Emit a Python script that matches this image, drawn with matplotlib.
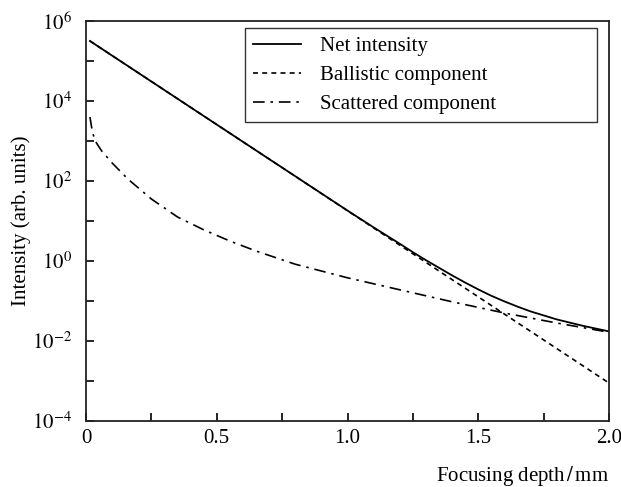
import numpy as np
import matplotlib.pyplot as plt

plt.rcParams['font.family'] = ['Liberation Serif', 'DejaVu Serif']
plt.rcParams['mathtext.fontset'] = 'stix'

##DATA##########################################################################
# ballistic component is a straight line on the log scale
ballistic_x = [0.015, 2.0]
ballistic_log = [5.5, -3.05]

scattered_x = [0.015, 0.025, 0.04, 0.06, 0.1, 0.16, 0.25, 0.35, 0.45, 0.55,
               0.65, 0.8, 1.0, 1.2, 1.4, 1.6, 1.8, 2.0]
scattered_log = [3.6, 3.2, 2.95, 2.75, 2.45, 2.05, 1.55, 1.1, 0.78, 0.5,
                 0.25, -0.08, -0.42, -0.72, -1.02, -1.3, -1.55, -1.78]

net_x = [0.015, 0.5, 1.0, 1.1, 1.2, 1.25, 1.3, 1.35, 1.4, 1.45, 1.5, 1.55,
         1.6, 1.65, 1.7, 1.75, 1.8, 1.85, 1.9, 1.95, 2.0]
net_log = [5.5, 3.41, 1.26, 0.84, 0.43, 0.22, 0.02, -0.17, -0.36, -0.54, -0.71,
           -0.87, -1.01, -1.14, -1.26, -1.36, -1.46, -1.54, -1.62, -1.69, -1.76]

x_ticks = [0, 0.25, 0.5, 0.75, 1.0, 1.25, 1.5, 1.75, 2.0]
x_ticklabels = ['0', '', '0.5', '', '1.0', '', '1.5', '', '2.0']
y_exponents = [-4, -3, -2, -1, 0, 1, 2, 3, 4, 5, 6]
y_ticklabels = [r'$10^{%d}$' % e if e % 2 == 0 else '' for e in y_exponents]
################################################################################

fig = plt.figure(figsize=(6.21, 4.87), dpi=100)
ax = fig.add_axes([0.1385, 0.1355, 0.8422, 0.8214])

ax.plot(net_x, np.power(10.0, net_log), color='black', lw=1.3, ls='-',
        label='Net intensity')
ax.plot(ballistic_x, np.power(10.0, ballistic_log), color='black', lw=1.2,
        ls=(0, (3, 2.5)), label='Ballistic component')
ax.plot(scattered_x, np.power(10.0, scattered_log), color='black', lw=1.2,
        ls=(0, (7, 3.5, 1.5, 3.5)), label='Scattered component')

ax.set_yscale('log')
ax.set_xlim(0, 2.0)
ax.set_ylim(1e-4, 1e6)
ax.set_xticks(x_ticks)
ax.set_xticklabels(x_ticklabels)
ax.set_yticks([10.0 ** e for e in y_exponents])
ax.set_yticklabels(y_ticklabels)
ax.yaxis.set_minor_locator(plt.NullLocator())
ax.tick_params(direction='in', length=6, width=1.2, labelsize=15,
               top=False, right=False)
ax.tick_params(axis='y', pad=10)
ax.tick_params(axis='x', pad=6)
for s in ax.spines.values():
    s.set_linewidth(1.3)
    s.set_color('#222222')

ax.set_xlabel('Focusing depth$\\,/\\,$mm', fontsize=15, loc='right')
ax.xaxis.set_label_coords(1.0, -0.108)
ax.set_ylabel('Intensity (arb. units)', fontsize=15)
ax.yaxis.set_label_coords(-0.105, 0.5)

leg = ax.legend(loc='upper left', bbox_to_anchor=(0.304, 0.0, 0.673, 0.982),
                mode='expand', fontsize=15, frameon=True, fancybox=False,
                edgecolor='black', handlelength=2.3, handletextpad=0.9,
                borderaxespad=0.0, labelspacing=0.45, borderpad=0.4)
leg.get_frame().set_linewidth(1.0)

fig.savefig('out.png', dpi=100)
